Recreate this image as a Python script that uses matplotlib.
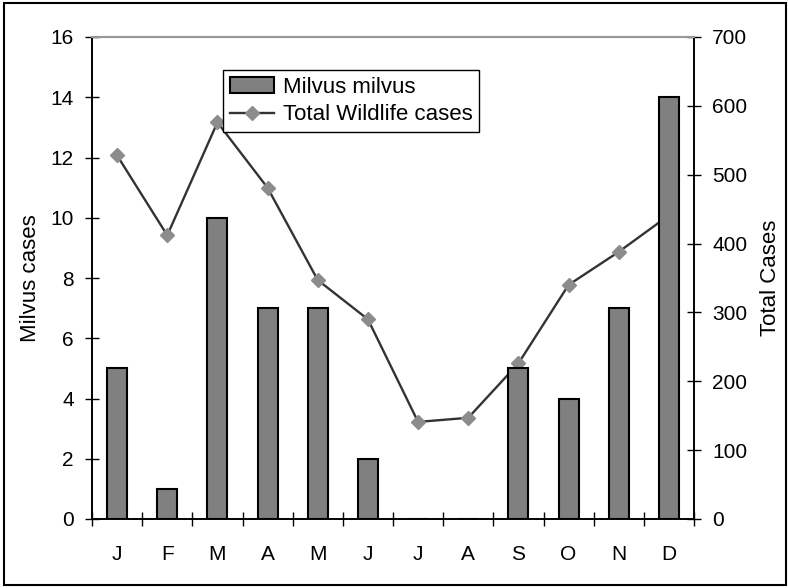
import matplotlib
matplotlib.use("Agg")
import matplotlib.pyplot as plt
from matplotlib.patches import Rectangle
import numpy as np

plt.rcParams["font.family"] = ["Liberation Sans", "DejaVu Sans"]

months = ["J", "F", "M", "A", "M", "J", "J", "A", "S", "O", "N", "D"]
milvus = [5, 1, 10, 7, 7, 2, 0, 0, 5, 4, 7, 14]
total_wildlife = [528, 412, 576, 481, 347, 290, 141, 147, 226, 340, 388, 441]

x = np.arange(len(months))

fig = plt.figure(figsize=(7.88, 5.88), dpi=100)
ax = fig.add_axes([92 / 788, 1 - 519 / 588, 602 / 788, 482 / 588])
ax2 = ax.twinx()

# line on the right axis, bars drawn over it
ax2.plot(x, total_wildlife, color="#333333", linewidth=1.7, marker="D",
         markersize=7, markerfacecolor="#8c8c8c", markeredgecolor="#8c8c8c",
         label="Total Wildlife cases")
ax.bar(x, milvus, width=0.4, color="#808080", edgecolor="black",
       linewidth=1.5, label="Milvus milvus", zorder=3)
ax.set_zorder(ax2.get_zorder() + 1)
ax.patch.set_visible(False)

ax.set_xlim(-0.5, len(months) - 0.5)
ax.set_ylim(0, 16)
ax2.set_ylim(0, 700)
ax.set_yticks(range(0, 17, 2))
ax2.set_yticks(range(0, 701, 100))

ax.set_xticks(np.arange(-0.5, len(months), 1.0))
ax.set_xticklabels([])
ax.set_xticks(x, minor=True)
ax.set_xticklabels(months, minor=True)
ax.tick_params(axis="x", which="major", direction="inout", length=10, width=1)
ax.tick_params(axis="x", which="minor", length=0, pad=19, labelsize=15)
ax.tick_params(axis="y", direction="inout", length=10, width=1, labelsize=15, pad=8)
ax2.tick_params(axis="y", direction="inout", length=10, width=1, labelsize=15, pad=8)

for a in (ax, ax2):
    a.spines["top"].set_color("#999999")
    a.spines["top"].set_linewidth(1.5)
    a.spines["left"].set_linewidth(1.2)
    a.spines["right"].set_linewidth(1.2)
    a.spines["bottom"].set_linewidth(1.2)

ax.set_ylabel("Milvus cases", fontsize=16, labelpad=7)
ax2.set_ylabel("Total Cases", fontsize=16, labelpad=9)

h1, l1 = ax.get_legend_handles_labels()
h2, l2 = ax2.get_legend_handles_labels()
leg = ax.legend(h1 + h2, l1 + l2, loc="upper left",
                bbox_to_anchor=((223 - 92) / 602, (519 - 70) / 482),
                fontsize=16, frameon=True, fancybox=False, framealpha=1,
                edgecolor="black", borderpad=0.3, labelspacing=0.3,
                handlelength=2.0, handletextpad=0.4, borderaxespad=0)
leg.get_frame().set_linewidth(1.0)

fig.patches.append(Rectangle((4 / 788, 3 / 588), 782 / 788, 582 / 588,
                             transform=fig.transFigure, fill=False,
                             edgecolor="black", linewidth=1.5))

fig.savefig("out.png", dpi=100)
